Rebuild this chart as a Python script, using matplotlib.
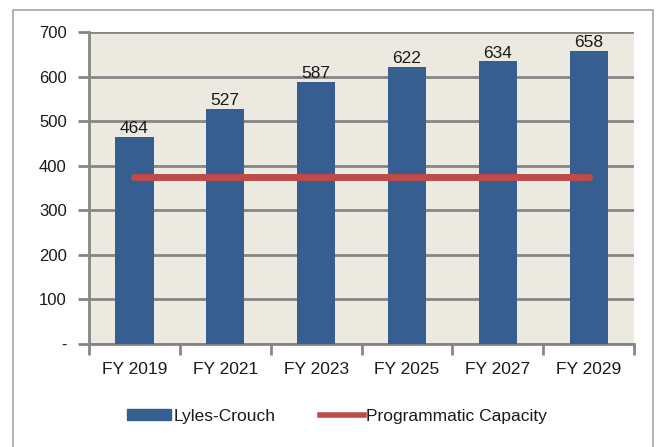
import matplotlib
matplotlib.use("Agg")
import matplotlib.pyplot as plt
from matplotlib.patches import Rectangle
from matplotlib.lines import Line2D
import numpy as np

plt.rcParams['font.family'] = ['Liberation Sans', 'DejaVu Sans']

years = ['FY 2019', 'FY 2021', 'FY 2023', 'FY 2025', 'FY 2027', 'FY 2029']
enrollment = [464, 527, 587, 622, 634, 658]
capacity = [375, 375, 375, 375, 375, 375]
yticks = [0, 100, 200, 300, 400, 500, 600, 700]
ytick_labels = ['-', '100', '200', '300', '400', '500', '600', '700']

bar_color = '#365E91'
line_color = '#BE4B48'
grid_color = '#868686'
text_color = '#1A1A1A'

fig = plt.figure(figsize=(6.56, 4.47), dpi=100)
ax = fig.add_axes([0.1357, 0.2304, 0.8308, 0.698])
ax.set_facecolor('#ECEAE0')

x = np.arange(len(years))
ax.bar(x, enrollment, width=0.42, color=bar_color, zorder=3)
ax.plot(x, capacity, color=line_color, lw=5, solid_capstyle='round', zorder=4)

for xi, v in zip(x, enrollment):
    ax.text(xi, v + 2, str(v), ha='center', va='bottom', fontsize=12.5,
            color=text_color, zorder=5)

ax.set_xlim(-0.5, len(years) - 0.5)
ax.set_ylim(0, 700)
ax.set_yticks(yticks)
ax.set_yticklabels(ytick_labels, fontsize=12, color=text_color)
ax.set_xticks(x)
ax.set_xticklabels(years, fontsize=12.5, color=text_color)
ax.set_xticks(np.arange(-0.5, len(years)), minor=True)

ax.grid(axis='y', color=grid_color, lw=2, zorder=1)
ax.tick_params(axis='y', length=8, width=2, color=grid_color, pad=8)
ax.tick_params(axis='x', which='major', length=0, pad=13)
ax.tick_params(axis='x', which='minor', length=8, width=2, color=grid_color)

for s in ['top', 'right']:
    ax.spines[s].set_visible(False)
for s in ['left', 'bottom']:
    ax.spines[s].set_color(grid_color)
    ax.spines[s].set_linewidth(2)

handles = [Rectangle((0, 0), 1, 1, color=bar_color),
           Line2D([0], [0], color=line_color, lw=4)]
fig.legend(handles, ['Lyles-Crouch', 'Programmatic Capacity'],
           loc='center', bbox_to_anchor=(0.514, 0.068), ncol=2, frameon=False,
           prop={'size': 12.5}, labelcolor=text_color,
           handlelength=2.5, handleheight=0.6, handletextpad=0.15,
           columnspacing=2.6)

fig.patches.append(Rectangle((13 / 656, -0.01), 640 / 656, 1 - 10 / 447 + 0.01,
                             transform=fig.transFigure, fill=False,
                             edgecolor='#A6A6A6', lw=1.2))

fig.savefig('out.png', dpi=100)
